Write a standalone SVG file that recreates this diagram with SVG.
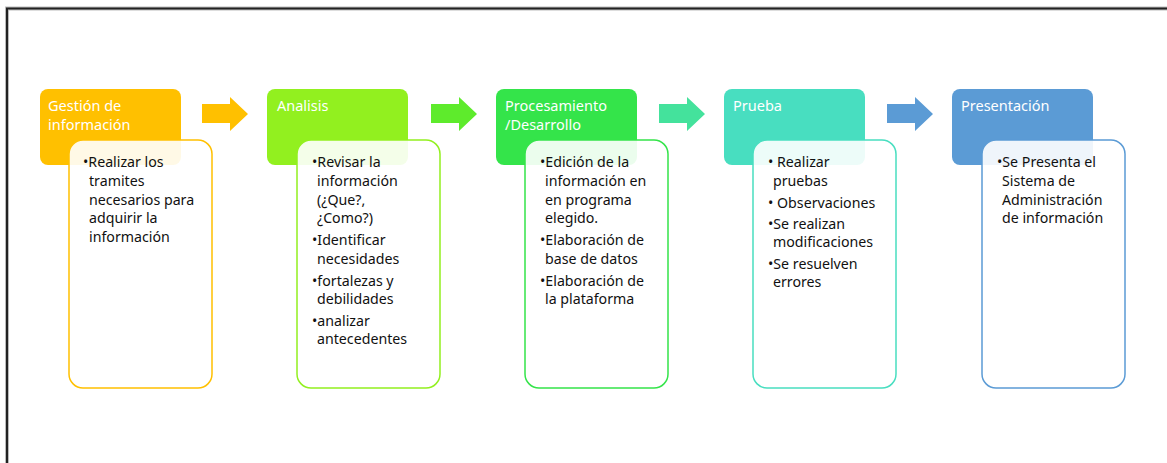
<svg xmlns="http://www.w3.org/2000/svg" width="1167" height="463" viewBox="0 0 1167 463">
<style>
.hdr{font-family:"Noto Sans","Open Sans",sans-serif;font-size:14.5px;fill:#ffffff}
.bt{font-family:"Noto Sans","Open Sans",sans-serif;font-size:14.2px;fill:#111111}
.body{fill:#ffffff;fill-opacity:0.9;stroke-width:1.5}
</style>
<rect x="0" y="0" width="1167" height="463" fill="#ffffff"/>
<g id="frame" fill="none">
<path d="M7,463 V8.5 H1167" stroke="#bbbbbb" stroke-width="4"/>
<path d="M7,463 V8.5 H1167" stroke="#222222" stroke-width="2"/>
</g>
<g id="connectors">
<polygon points="202,104 230,104 230,97 248,114 230,131 230,123 202,123" fill="#FFC000"/>
<polygon points="431,104 459,104 459,97 477,114 459,131 459,123 431,123" fill="#5EEB2C"/>
<polygon points="659,104 687,104 687,97 705,114 687,131 687,123 659,123" fill="#44E29C"/>
<polygon points="887,104 915,104 915,97 933,114 915,131 915,123 887,123" fill="#5B9BD5"/>
</g>
<g id="n1">
<rect x="40" y="89" width="141" height="76" rx="8" fill="#FFC000"/>
<text class="hdr" x="48" y="111">Gestión de</text>
<text class="hdr" x="48" y="130">información</text>
<rect class="body" x="69" y="140" width="143" height="248" rx="14" stroke="#FFC000"/>
<text class="bt" x="83" y="167">•Realizar los</text>
<text class="bt" x="89" y="186">tramites</text>
<text class="bt" x="89" y="204.5">necesarios para</text>
<text class="bt" x="89" y="223">adquirir la</text>
<text class="bt" x="89" y="242">información</text>
</g>
<g id="n2">
<rect x="267" y="89" width="141" height="76" rx="8" fill="#92F01F"/>
<text class="hdr" x="277" y="111">Analisis</text>
<rect class="body" x="297" y="140" width="143" height="248" rx="14" stroke="#92F01F"/>
<text class="bt" x="312" y="167">•Revisar la</text>
<text class="bt" x="317" y="186">información</text>
<text class="bt" x="317" y="204.5">(¿Que?,</text>
<text class="bt" x="317" y="223">¿Como?)</text>
<text class="bt" x="312" y="245">•Identificar</text>
<text class="bt" x="317" y="263.5">necesidades</text>
<text class="bt" x="312" y="285.5">•fortalezas y</text>
<text class="bt" x="317" y="304">debilidades</text>
<text class="bt" x="312" y="325.5">•analizar</text>
<text class="bt" x="317" y="344">antecedentes</text>
</g>
<g id="n3">
<rect x="496" y="89" width="141" height="76" rx="8" fill="#34E44A"/>
<text class="hdr" x="505" y="111">Procesamiento</text>
<text class="hdr" x="505" y="130">/Desarrollo</text>
<rect class="body" x="525" y="140" width="143" height="248" rx="14" stroke="#34E44A"/>
<text class="bt" x="540" y="167">•Edición de la</text>
<text class="bt" x="545" y="186">información en</text>
<text class="bt" x="545" y="204.5">en programa</text>
<text class="bt" x="545" y="223">elegido.</text>
<text class="bt" x="540" y="245">•Elaboración de</text>
<text class="bt" x="545" y="263.5">base de datos</text>
<text class="bt" x="540" y="285.5">•Elaboración de</text>
<text class="bt" x="545" y="304">la plataforma</text>
</g>
<g id="n4">
<rect x="724" y="89" width="141" height="76" rx="8" fill="#48DEC0"/>
<text class="hdr" x="733" y="111">Prueba</text>
<rect class="body" x="753" y="140" width="143" height="248" rx="14" stroke="#48DEC0"/>
<text class="bt" x="768" y="167">• Realizar</text>
<text class="bt" x="773" y="186">pruebas</text>
<text class="bt" x="768" y="208">• Observaciones</text>
<text class="bt" x="768" y="228.5">•Se realizan</text>
<text class="bt" x="773" y="247">modificaciones</text>
<text class="bt" x="768" y="268.5">•Se resuelven</text>
<text class="bt" x="773" y="287">errores</text>
</g>
<g id="n5">
<rect x="952" y="89" width="141" height="76" rx="8" fill="#5B9BD5"/>
<text class="hdr" x="961" y="111">Presentación</text>
<rect class="body" x="982" y="140" width="143" height="248" rx="14" stroke="#5B9BD5"/>
<text class="bt" x="997" y="167">•Se Presenta el</text>
<text class="bt" x="1002" y="186">Sistema de</text>
<text class="bt" x="1002" y="204.5">Administración</text>
<text class="bt" x="1002" y="223">de información</text>
</g>
</svg>
